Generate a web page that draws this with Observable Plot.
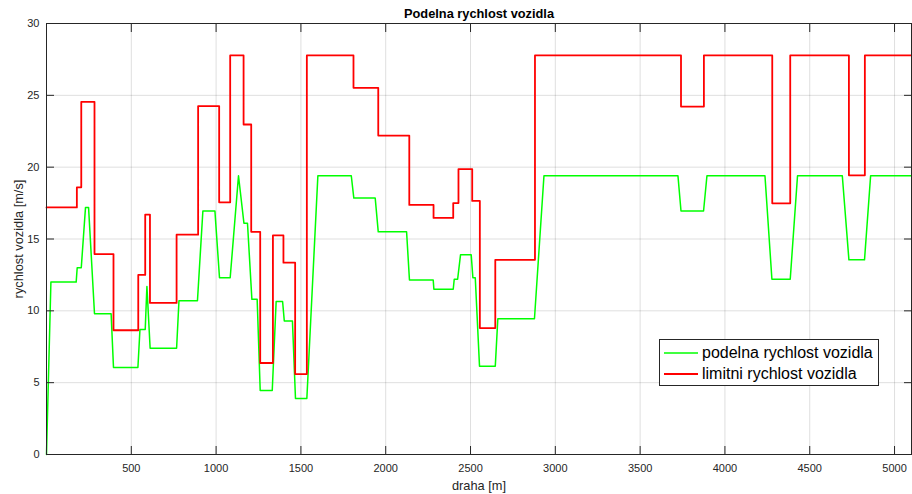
<!DOCTYPE html>
<html>
<head>
<meta charset="utf-8">
<script src="https://cdn.jsdelivr.net/npm/d3@7"></script>
<script src="https://cdn.jsdelivr.net/npm/@observablehq/plot@0.6"></script>
<style>
  html, body { margin: 0; padding: 0; background: #fff; }
  #wrap { position: relative; width: 912px; height: 494px; font-family: "Liberation Sans", Arial, sans-serif; }
  #legend { position: absolute; left: 659px; top: 339px; width: 220px; height: 47px; box-sizing: border-box;
            border: 1px solid #262626; background: #fff; font-size: 16px; color: #000; }
  .row { position: absolute; left: 0; height: 20px; display: flex; align-items: center; }
  .row svg { margin-left: 4px; margin-right: 4px; }
</style>
</head>
<body>
<div id="wrap"><div id="legend"></div></div>
<script>
// ---- data ----
const titleText = "Podelna rychlost vozidla";
const xLabel = "draha [m]";
const yLabel = "rychlost vozidla [m/s]";
const seriesNames = ["podelna rychlost vozidla", "limitni rychlost vozidla"];
const seriesColors = ["#00ff00", "#ff0000"];

const xTicks = [500, 1000, 1500, 2000, 2500, 3000, 3500, 4000, 4500, 5000];
const yTicks = [0, 5, 10, 15, 20, 25, 30];

// podelna rychlost (longitudinal speed), piecewise linear
const speedX = [0, 26, 175, 181, 205, 230, 248, 283, 381, 395,
  539, 551, 582, 592, 611, 767, 781, 890, 922, 993,
  1020, 1083, 1132, 1164, 1185, 1211, 1242, 1260, 1331, 1354,
  1392, 1402, 1450, 1468, 1535, 1600, 1797, 1812, 1938, 1956,
  2123, 2140, 2280, 2284, 2398, 2404, 2424, 2441, 2504, 2514,
  2528, 2553, 2646, 2661, 2877, 2933, 3723, 3741, 3874, 3894,
  4236, 4277, 4385, 4428, 4692, 4731, 4823, 4859, 5100];
const speedV = [0, 12, 12, 13, 13, 17.2, 17.2, 9.8, 9.8, 6.05,
  6.05, 8.7, 8.7, 11.7, 7.4, 7.4, 10.7, 10.7, 16.95, 16.95,
  12.3, 12.3, 19.4, 16.1, 16.1, 10.8, 10.8, 4.45, 4.45, 10.65,
  10.65, 9.3, 9.3, 3.9, 3.9, 19.4, 19.4, 17.85, 17.85, 15.5,
  15.5, 12.15, 12.15, 11.5, 11.5, 12.2, 12.2, 13.9, 13.9, 12.3,
  12.3, 6.15, 6.15, 9.45, 9.45, 19.4, 19.4, 16.95, 16.95, 19.4,
  19.4, 12.2, 12.2, 19.4, 19.4, 13.55, 13.55, 19.4, 19.4];

// limitni rychlost (speed limit), step function (value holds from x onward)
const limitX = [0, 179, 205, 283, 395, 541, 582, 610, 767, 894,
  1018, 1083, 1162, 1207, 1260, 1335, 1397, 1466, 1535, 1810,
  1956, 2139, 2282, 2398, 2429, 2510, 2555, 2646, 2880, 3741,
  3876, 4279, 4385, 4731, 4825, 5100];
const limitV = [17.2, 18.6, 24.55, 13.95, 8.65, 12.5, 16.7, 10.55, 15.3, 24.25,
  17.55, 27.78, 22.97, 15.5, 6.37, 15.25, 13.35, 5.6, 27.78, 25.52,
  22.2, 17.37, 16.47, 17.5, 19.87, 17.65, 8.8, 13.55, 27.78, 24.22,
  27.78, 17.48, 27.78, 19.43, 27.78, 27.78];

const speedData = speedX.map((x, i) => ({x, v: speedV[i]}));
const limitData = limitX.map((x, i) => ({x, v: limitV[i]}));

const axisColor = "#262626";
const tickLen = -8;
const plainFmt = d => String(d);
const centered = { textAnchor: "middle", lineAnchor: "middle" };

const chart = Plot.plot({
  width: 912,
  height: 494,
  marginLeft: 46,
  marginRight: 1,
  marginTop: 23,
  marginBottom: 40,
  style: { fontFamily: '"Liberation Sans", Arial, sans-serif', fontSize: "11px", color: axisColor, background: "#fff", overflow: "visible" },
  x: { domain: [0, 5100] },
  y: { domain: [0, 30] },
  marks: [
    Plot.gridX(xTicks, { stroke: "#000", strokeOpacity: 0.13 }),
    Plot.gridY(yTicks, { stroke: "#000", strokeOpacity: 0.13 }),
    Plot.line(speedData, { x: "x", y: "v", stroke: seriesColors[0], strokeWidth: 1.5 }),
    Plot.line(limitData, { x: "x", y: "v", stroke: seriesColors[1], strokeWidth: 1.8, curve: "step-after" }),
    Plot.frame({ stroke: axisColor }),
    Plot.axisX({ anchor: "bottom", ticks: xTicks, tickSize: tickLen, tickPadding: 18, tickFormat: plainFmt, label: null, stroke: axisColor }),
    Plot.axisX({ anchor: "top", ticks: xTicks, tickSize: tickLen, tickFormat: () => "", label: null, stroke: axisColor }),
    Plot.axisY({ anchor: "left", ticks: yTicks, tickSize: tickLen, tickPadding: 15, tickFormat: plainFmt, label: null, stroke: axisColor }),
    Plot.axisY({ anchor: "right", ticks: yTicks, tickSize: tickLen, tickFormat: () => "", label: null, stroke: axisColor }),
    Plot.text([titleText], { frameAnchor: "top", dy: -10, fontWeight: "bold", fontSize: 12.8, fill: "#000", ...centered }),
    Plot.text([xLabel], { frameAnchor: "bottom", dy: 31, fontSize: 12.8, fill: axisColor, ...centered }),
    Plot.text([yLabel], { frameAnchor: "left", dx: -28, rotate: -90, fontSize: 12.8, fill: axisColor, ...centered })
  ]
});

const wrap = document.getElementById("wrap");
wrap.insertBefore(chart, wrap.firstChild);

// legend
const legend = document.getElementById("legend");
seriesNames.forEach((name, i) => {
  const row = document.createElement("div");
  row.className = "row";
  row.style.top = (3 + i * 21) + "px";
  row.innerHTML = `<svg width="34" height="4"><line x1="0" x2="34" y1="2" y2="2" stroke="${seriesColors[i]}" stroke-width="${i === 0 ? 1.5 : 1.8}"/></svg><span>${name}</span>`;
  legend.appendChild(row);
});
</script>
</body>
</html>
